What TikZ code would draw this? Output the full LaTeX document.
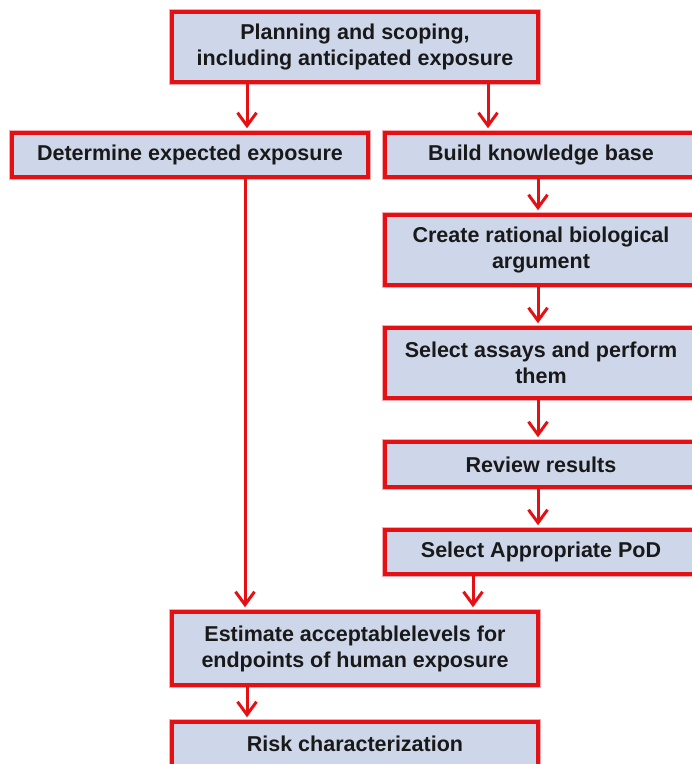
\documentclass[tikz,border=0pt]{standalone}
\usepackage{fontspec}
\setmainfont{Liberation Sans}
\usetikzlibrary{arrows.meta,calc}
\definecolor{boxred}{RGB}{228,16,20}
\definecolor{boxfill}{RGB}{205,215,233}
\definecolor{halo}{RGB}{245,170,175}
\tikzset{
  box/.style={draw=boxred, line width=3.5pt, fill=boxfill, align=center,
    inner sep=0pt, font=\fontsize{21.5}{26}\selectfont\bfseries, text=black!90,
    preaction={draw=halo, line width=6pt}},
  arr/.style={draw=boxred, line width=3pt, shorten >=3pt,
    -{Straight Barb[length=13pt,width=19pt,line width=3pt]}}
}
\begin{document}
\begin{tikzpicture}[x=1pt,y=-1pt]
\useasboundingbox (0,0) rectangle (692,764);
\node[box, minimum width=366pt, minimum height=70pt] (top) at (355,47) {Planning and scoping,\\including anticipated exposure};
\node[box, minimum width=356pt, minimum height=44pt] (det) at (190,155) {Determine expected exposure};
\node[box, minimum width=312pt, minimum height=44pt] (kb) at (541,155) {Build knowledge base};
\node[box, minimum width=312pt, minimum height=70pt] (arg) at (541,250) {Create rational biological\\argument};
\node[box, minimum width=312pt, minimum height=70pt] (assay) at (541,363) {Select assays and perform\\them};
\node[box, minimum width=312pt, minimum height=45pt] (rev) at (541,464.5) {Review results};
\node[box, minimum width=312pt, minimum height=44pt] (pod) at (541,552) {Select Appropriate PoD};
\node[box, minimum width=366pt, minimum height=73pt] (est) at (355,648.5) {Estimate acceptablelevels for\\endpoints of human exposure};
\node[box, minimum width=366pt, minimum height=44pt] (risk) at (355,744) {Risk characterization};

\draw[arr] ([xshift=-108pt]top.south) -- ([xshift=-108pt]top.south |- det.north);
\draw[arr] ([xshift=133pt]top.south) -- ([xshift=133pt]top.south |- kb.north);
\draw[arr] ([xshift=55pt]det.south) -- ([xshift=55pt]det.south |- est.north);
\draw[arr] ([xshift=-3pt]kb.south) -- ([xshift=-3pt]arg.north);
\draw[arr] ([xshift=-3pt]arg.south) -- ([xshift=-3pt]assay.north);
\draw[arr] ([xshift=-3pt]assay.south) -- ([xshift=-3pt]rev.north);
\draw[arr] ([xshift=-3pt]rev.south) -- ([xshift=-3pt]pod.north);
\draw[arr] ([xshift=-68pt]pod.south) -- ([xshift=-68pt]pod.south |- est.north);
\draw[arr] ([xshift=-108pt]est.south) -- ([xshift=-108pt]est.south |- risk.north);
\end{tikzpicture}
\end{document}
